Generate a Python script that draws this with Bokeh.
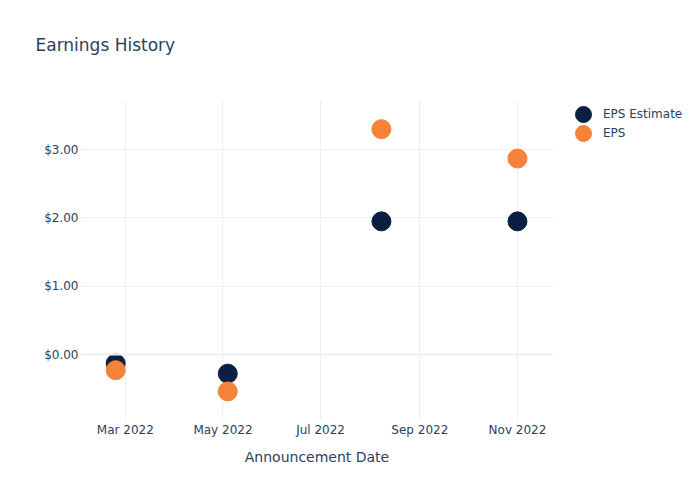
from datetime import datetime
from bokeh.plotting import figure
from bokeh.layouts import row
from bokeh.models import (Range1d, FixedTicker, DatetimeTickFormatter, NumeralTickFormatter,
                          Span, Legend, LegendItem, ColumnDataSource, Title)
from bokeh.embed import file_html
from bokeh.resources import INLINE

# data
dates = ["2022-02-23", "2022-05-04", "2022-08-08", "2022-11-01"]
eps_estimate = [-0.13, -0.28, 1.95, 1.95]
eps_actual = [-0.23, -0.54, 3.30, 2.87]
x_tick_dates = ["2022-03-01", "2022-05-01", "2022-07-01", "2022-09-01", "2022-11-01"]
y_ticks = [0, 1, 2, 3]
series_names = ["EPS Estimate", "EPS"]
series_colors = ["#0b1f42", "#f7823a"]

FONT = "DejaVu Sans"
TXT = "#2a3f5f"
GRID = "#ebf0f8"

xd = [datetime.strptime(d, "%Y-%m-%d") for d in dates]
src = ColumnDataSource(dict(x=xd, est=eps_estimate, eps=eps_actual))

p = figure(width=553, height=500, output_backend="svg", toolbar_location=None,
           title=None, x_axis_type="datetime",
           x_range=Range1d(datetime(2022, 2, 1), datetime(2022, 11, 23, 12)),
           y_range=Range1d(-0.966, 3.72),
           min_border_left=80, min_border_right=0, min_border_top=100, min_border_bottom=80)
p.outline_line_color = None
p.background_fill_color = "white"
p.border_fill_color = "white"

spacer = Title(text=" ", text_font=FONT, text_font_size="17px", standoff=7)
p.add_layout(spacer, "above")
main_title = Title(text="Earnings History", text_font=FONT, text_font_size="17px",
                   text_font_style="normal", text_color=TXT, offset=-45, standoff=33)
p.add_layout(main_title, "above")

tick_ms = [datetime.strptime(d, "%Y-%m-%d").timestamp() * 1000 for d in x_tick_dates]
p.xaxis.ticker = FixedTicker(ticks=tick_ms)
p.xaxis.formatter = DatetimeTickFormatter(months="%b %Y", days="%b %Y")
p.yaxis.ticker = FixedTicker(ticks=y_ticks)
p.yaxis.formatter = NumeralTickFormatter(format="$0.00")

for ax in (p.xaxis[0], p.yaxis[0]):
    ax.axis_line_color = None
    ax.major_tick_line_color = None
    ax.minor_tick_line_color = None
    ax.major_tick_out = 0
    ax.major_tick_in = 0
    ax.minor_tick_out = 0
    ax.minor_tick_in = 0
    ax.major_label_text_font = FONT
    ax.major_label_text_font_size = "12px"
    ax.major_label_text_color = TXT
    ax.major_label_standoff = 2
p.xaxis.axis_label = "Announcement Date"
p.xaxis.axis_label_text_font = FONT
p.xaxis.axis_label_text_font_size = "14px"
p.xaxis.axis_label_text_font_style = "normal"
p.xaxis.axis_label_text_color = TXT
p.xaxis.axis_label_standoff = 9

p.grid.grid_line_color = GRID
p.grid.grid_line_width = 1
p.add_layout(Span(location=0, dimension="width", line_color=GRID, line_width=2))

p.scatter("x", "est", source=src, size=19, color=series_colors[0], line_color=series_colors[0])
p.scatter("x", "eps", source=src, size=19, color=series_colors[1], line_color=series_colors[1])

# legend panel (frame aligned with main plot: y 100..420)
lg = figure(width=147, height=500, output_backend="svg", toolbar_location=None,
            x_range=Range1d(0, 1), y_range=Range1d(0, 1),
            x_axis_location=None, y_axis_location=None,
            min_border_left=0, min_border_right=0, min_border_top=100, min_border_bottom=80)
lg.outline_line_color = None
lg.grid.visible = False
lg.border_fill_color = "white"
lg.background_fill_color = "white"

legend_y = [286, 267]
for name, col, ly in zip(series_names, series_colors, legend_y):
    # off-range proxy point so the legend has a glyph to draw
    r = lg.scatter(x=[-5], y=[-5], size=19, color=col, line_color=col)
    leg = Legend(items=[LegendItem(label=name, renderers=[r])], location=(10, ly))
    leg.label_text_font = FONT
    leg.label_text_font_size = "12px"
    leg.label_text_color = TXT
    leg.glyph_width = 40
    leg.glyph_height = 40
    leg.label_height = 19
    leg.spacing = 0
    leg.padding = 0
    leg.margin = 0
    leg.border_line_color = None
    leg.background_fill_alpha = 0
    leg.label_standoff = 0
    lg.add_layout(leg, "center")

layout = row(p, lg)
open("out.html", "w").write(file_html(layout, INLINE))
